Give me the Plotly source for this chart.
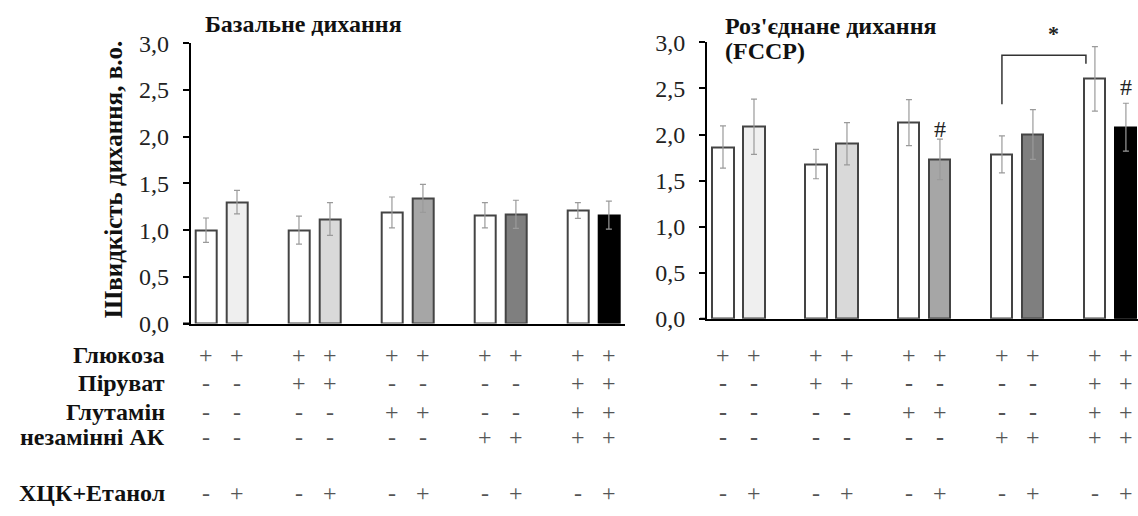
import plotly.graph_objects as go

# ---------------- data ----------------
basal_mean = [1.00, 1.30, 1.00, 1.12, 1.19, 1.34, 1.16, 1.17, 1.21, 1.16]
basal_err = [0.13, 0.125, 0.15, 0.175, 0.165, 0.15, 0.135, 0.15, 0.085, 0.15]
fccp_mean = [1.865, 2.085, 1.68, 1.90, 2.13, 1.73, 1.785, 2.00, 2.605, 2.08]
fccp_err = [0.23, 0.30, 0.16, 0.23, 0.25, 0.22, 0.20, 0.27, 0.35, 0.26]

bar_colors = ["#ffffff", "#efefef", "#ffffff", "#d9d9d9", "#ffffff",
              "#a6a6a6", "#ffffff", "#7f7f7f", "#ffffff", "#000000"]

row_labels = ["Глюкоза", "Піруват", "Глутамін", "незамінні АК", "ХЦК+Етанол"]
glucose = ["+", "+", "+", "+", "+", "+", "+", "+", "+", "+"]
pyruvate = ["-", "-", "+", "+", "-", "-", "-", "-", "+", "+"]
glutamine = ["-", "-", "-", "-", "+", "+", "-", "-", "+", "+"]
nonessential = ["-", "-", "-", "-", "-", "-", "+", "+", "+", "+"]
hck_ethanol = ["-", "+", "-", "+", "-", "+", "-", "+", "-", "+"]
table_rows = [glucose, pyruvate, glutamine, nonessential, hck_ethanol]

title_left = "Базальне дихання"
title_right_1 = "Роз'єднане дихання"
title_right_2 = "(FCCP)"
y_title = "Швидкість дихання, в.о."
y_ticks = [0, 0.5, 1.0, 1.5, 2.0, 2.5, 3.0]

# bar slots: pairs of bars separated by an empty slot
positions = [g * 3 + k for g in range(5) for k in range(2)]

W, H = 1138, 516
FONT = "Liberation Serif, Times New Roman, DejaVu Serif, serif"

def py(pix):
    return (H - pix) / H

def px(pix):
    return pix / W

fig = go.Figure()

outline = ["#000000" if c == "#000000" else "#444444" for c in bar_colors]

for mean, err, xa, ya in [(basal_mean, basal_err, "x", "y"),
                          (fccp_mean, fccp_err, "x2", "y2")]:
    fig.add_trace(go.Bar(
        x=positions, y=mean, xaxis=xa, yaxis=ya, width=0.68,
        marker=dict(color=bar_colors, line=dict(color=outline, width=2)),
        error_y=dict(type="data", array=err, visible=True,
                     color="#9a9a9a", thickness=1.2, width=3),
        showlegend=False, hoverinfo="skip",
    ))

axis_common = dict(showgrid=False, zeroline=False, showline=True,
                   linecolor="#000000", linewidth=2)
yaxis_common = dict(axis_common, range=[0, 3.0], tickvals=y_ticks,
                    tickformat=".1f", ticks="outside", ticklen=6,
                    tickwidth=2, tickcolor="#000000", ticklabelstandoff=9,
                    tickfont=dict(family=FONT, size=24, color="#222222"))

fig.update_layout(
    width=W, height=H,
    margin=dict(l=0, r=0, t=0, b=0),
    paper_bgcolor="white", plot_bgcolor="white",
    separators=", ",
    bargap=0,
    font=dict(family=FONT),
    xaxis=dict(axis_common, domain=[px(190.7), px(625)],
               range=[-0.494, 13.52], showticklabels=False, ticks=""),
    yaxis=dict(yaxis_common, domain=[py(327), py(32)], anchor="x"),
    xaxis2=dict(axis_common, domain=[px(707), 1.0],
                range=[-0.516, 13.39], showticklabels=False, ticks="",
                anchor="y2"),
    yaxis2=dict(yaxis_common, domain=[py(322), py(31)], anchor="x2"),
)

ann = []
title_font = dict(family=FONT, size=24, color="#111111")
# panel titles
ann.append(dict(text="<b>" + title_left + "</b>", xref="paper", yref="paper",
                x=px(203), y=py(12), xanchor="left", yanchor="middle",
                showarrow=False, font=title_font))
ann.append(dict(text="<b>" + title_right_1 + "</b>", xref="paper", yref="paper",
                x=px(723), y=py(14), xanchor="left", yanchor="middle",
                showarrow=False, font=title_font))
ann.append(dict(text="<b>" + title_right_2 + "</b>", xref="paper", yref="paper",
                x=px(723), y=py(40), xanchor="left", yanchor="middle",
                showarrow=False, font=title_font))
# y-axis title
ann.append(dict(text="<b>" + y_title + "</b>", xref="paper", yref="paper",
                x=px(113), y=py(176), textangle=-90, xanchor="center",
                yanchor="middle", showarrow=False,
                font=dict(family=FONT, size=25, color="#111111")))

# table
row_y = [360, 390, 420, 447, 505]
for label, vals, ry in zip(row_labels, table_rows, row_y):
    ann.append(dict(text="<b>" + label + "</b>", xref="paper", yref="paper",
                    x=px(167), y=py(ry), xanchor="right", yanchor="middle",
                    showarrow=False, font=dict(family=FONT, size=24, color="#111111")))
    for xa in ["x", "x2"]:
        for pos, v in zip(positions, vals):
            bold = (v == "-" and xa == "x2" and ry != 505)
            ann.append(dict(text=("<b>-</b>" if bold else v), xref=xa, yref="paper",
                            x=pos, y=py(ry), xanchor="center", yanchor="middle",
                            showarrow=False,
                            font=dict(family=FONT, size=24, color="#555555")))

# significance marks
ann.append(dict(text="#", xref="x2", yref="y2", x=positions[5], y=2.06,
                showarrow=False, font=dict(family=FONT, size=24, color="#222222")))
ann.append(dict(text="#", xref="x2", yref="y2", x=positions[9], y=2.52,
                showarrow=False, font=dict(family=FONT, size=24, color="#222222")))
ann.append(dict(text="<b>*</b>", xref="x2", yref="paper", x=10.65, y=py(6),
                showarrow=False, font=dict(family=FONT, size=22, color="#222222")))

fig.update_layout(annotations=ann)

# bracket between groups 4 and 5 (white bars)
fig.add_shape(type="path", xref="x2", yref="y2",
              path="M 9,2.33 L 9,2.86 L 11.71,2.86 L 11.71,2.77",
              line=dict(color="#333333", width=1.5))
# baseline stubs extending a little left of the y axes
fig.add_shape(type="line", xref="paper", yref="y", x0=px(183), x1=px(191),
              y0=0, y1=0, line=dict(color="#000000", width=2))
fig.add_shape(type="line", xref="paper", yref="y2", x0=px(700), x1=px(707),
              y0=0, y1=0, line=dict(color="#000000", width=2))

fig.write_html("out.html")
